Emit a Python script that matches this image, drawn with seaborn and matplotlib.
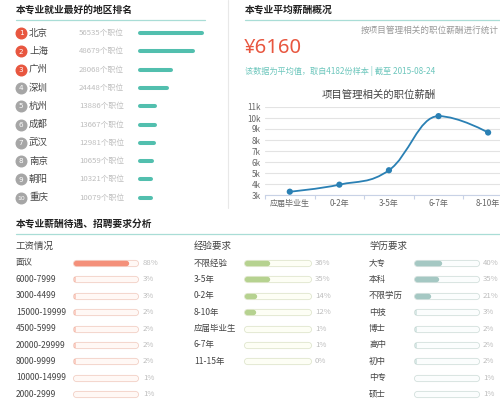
import numpy as np
import pandas as pd
import matplotlib
matplotlib.use('Agg')
import matplotlib.pyplot as plt
from matplotlib.path import Path
from matplotlib.patches import PathPatch
import seaborn as sns

# 地区排名
cities = ['北京', '上海', '广州', '深圳', '杭州', '成都', '武汉', '南京', '朝阳', '重庆']
city_jobs = [56535, 48679, 28068, 24448, 13886, 13667, 12981, 10659, 10321, 10079]

# 职位薪酬 (按经验)
exp_cats = ['应届毕业生', '0-2年', '3-5年', '6-7年', '8-10年']
exp_pay = [3300, 3940, 5250, 10170, 8680]

# 工资情况
salary_labels = ['面议', '6000-7999', '3000-4499', '15000-19999', '4500-5999',
                 '20000-29999', '8000-9999', '10000-14999', '2000-2999']
salary_pct = [88, 3, 3, 2, 2, 2, 2, 1, 1]

# 经验要求
exp_labels = ['不限经验', '3-5年', '0-2年', '8-10年', '应届毕业生', '6-7年', '11-15年']
exp_pct = [36, 35, 14, 12, 1, 1, 0]

# 学历要求
edu_labels = ['大专', '本科', '不限学历', '中技', '博士', '高中', '初中', '中专', '硕士']
edu_pct = [40, 35, 21, 3, 2, 2, 2, 1, 1]

sns.set_theme(style='white')
plt.rcParams['font.family'] = ['Noto Sans CJK SC', 'DejaVu Sans']

W, H = 500, 400
fig = plt.figure(figsize=(5, 4), dpi=100)


def rect(x0, y0, x1, y1):
    return [x0 / W, 1 - y1 / H, (x1 - x0) / W, (y1 - y0) / H]


# 背景层: 标题、分隔线、文字
bg = fig.add_axes([0, 0, 1, 1])
bg.set_xlim(0, W)
bg.set_ylim(H, 0)
bg.axis('off')

teal_line = '#a9ddd6'
bg.plot([16, 205], [20, 20], color=teal_line, lw=0.9)
bg.plot([245, 500], [20, 20], color=teal_line, lw=0.9)
bg.plot([16, 500], [234, 234], color=teal_line, lw=0.9)
bg.plot([228, 228], [0, 208], color='#e8e8e8', lw=0.8)

bg.text(16, 10, '本专业就业最好的地区排名', fontsize=7, fontweight='bold', color='#222', va='center')
bg.text(245, 10, '本专业平均薪酬概况', fontsize=7, fontweight='bold', color='#222', va='center')
bg.text(16, 224, '本专业薪酬待遇、招聘要求分析', fontsize=7, fontweight='bold', color='#222', va='center')

# 排名列表
row_y = [33 + i * 18.3 for i in range(len(cities))]
for i, (c, n) in enumerate(zip(cities, city_jobs)):
    col = '#e8563f' if i < 3 else '#a6a6a6'
    bg.scatter(21, row_y[i], s=58, color=col, zorder=3)
    bg.text(21, row_y[i] + 0.3, str(i + 1), fontsize=5.2 if i < 9 else 4.4, color='white',
            ha='center', va='center', zorder=4, family='DejaVu Sans')
    bg.text(29, row_y[i], c, fontsize=6.8, color='#444', va='center')
    bg.text(79, row_y[i], f'{n}个职位', fontsize=5.6, color='#bdbdbd', va='center')

rank_ax = fig.add_axes(rect(140, row_y[0] - 9.15, 201.5, row_y[-1] + 9.15))
rank_ax.set_facecolor('none')
rank_ax.hlines(range(len(cities)), 0, city_jobs, color='#52bfae', lw=2.9,
               capstyle='round', clip_on=False)
rank_ax.set_xlim(0, max(city_jobs))
rank_ax.set_ylim(len(cities) - 0.5, -0.5)
rank_ax.axis('off')

# 平均薪酬
bg.text(499, 30, '按项目管理相关的职位薪酬进行统计', fontsize=6.2, color='#999',
        ha='right', va='center')
bg.text(244, 48, '¥6160', fontsize=14.5, color='#e8563f', va='center',
        family=['Noto Sans', 'Noto Sans CJK SC'])
bg.text(245, 71, '该数据为平均值，取自4182份样本 | 截至 2015-08-24', fontsize=5.9,
        color='#6cc6bc', va='center')
bg.text(379, 95, '项目管理相关的职位薪酬', fontsize=7.5, color='#444', ha='center', va='center')

line_ax = fig.add_axes(rect(265, 107, 500, 195))
line_ax.set_facecolor('none')
df = pd.DataFrame({'x': range(len(exp_cats)), 'pay': exp_pay})

# highcharts 风格的平滑曲线控制点
xs = df['x'].to_numpy(dtype=float)
ys = df['pay'].to_numpy(dtype=float)
lc = [(x, y) for x, y in zip(xs, ys)]
rc = [(x, y) for x, y in zip(xs, ys)]
for i in range(1, len(xs) - 1):
    px, py = xs[i], ys[i]
    lx, ly = xs[i - 1], ys[i - 1]
    nx, ny = xs[i + 1], ys[i + 1]
    lcx, lcy = (1.5 * px + lx) / 2.5, (1.5 * py + ly) / 2.5
    rcx, rcy = (1.5 * px + nx) / 2.5, (1.5 * py + ny) / 2.5
    corr = (rcy - lcy) * (rcx - px) / (rcx - lcx) + py - rcy
    lcy += corr
    rcy += corr
    if lcy > ly and lcy > py:
        lcy = max(ly, py)
        rcy = 2 * py - lcy
    elif lcy < ly and lcy < py:
        lcy = min(ly, py)
        rcy = 2 * py - lcy
    if rcy > ny and rcy > py:
        rcy = max(ny, py)
        lcy = 2 * py - rcy
    elif rcy < ny and rcy < py:
        rcy = min(ny, py)
        lcy = 2 * py - rcy
    lc[i] = (lcx, lcy)
    rc[i] = (rcx, rcy)
verts = [(xs[0], ys[0])]
codes = [Path.MOVETO]
for i in range(1, len(xs)):
    verts += [rc[i - 1], lc[i], (xs[i], ys[i])]
    codes += [Path.CURVE4] * 3
line_ax.add_patch(PathPatch(Path(verts, codes), fill=False, color='#2a80b4', lw=1.3, zorder=3))
sns.scatterplot(data=df, x='x', y='pay', ax=line_ax, color='#2a80b4', s=20,
                edgecolor='none', zorder=4, legend=False)

line_ax.set_xlim(-0.5, 4.24)
line_ax.set_ylim(3000, 11000)
line_ax.set_yticks(range(3000, 11001, 1000))
line_ax.set_yticklabels([f'{v // 1000}k' for v in range(3000, 11001, 1000)])
line_ax.set_xticks(range(len(exp_cats)))
line_ax.set_xticklabels(exp_cats)
line_ax.set_xticks([i - 0.5 for i in range(len(exp_cats))], minor=True)
line_ax.tick_params(axis='both', which='major', length=0, labelsize=5.8, labelcolor='#666')
line_ax.tick_params(axis='y', pad=3)
line_ax.tick_params(axis='x', pad=3)
line_ax.tick_params(axis='x', which='minor', length=3, color='#c8d2e6', width=0.8, bottom=True)
line_ax.grid(axis='y', color='#e3e3e3', lw=0.8)
line_ax.set_xlabel('')
line_ax.set_ylabel('')
for s in ['top', 'right', 'left']:
    line_ax.spines[s].set_visible(False)
line_ax.spines['bottom'].set_color('#c8d2e6')
line_ax.spines['bottom'].set_linewidth(0.8)

# 招聘要求进度条
groups = [
    ('工资情况', salary_labels, salary_pct, 16, 72, 138, 143, '#f4907a', '#f2cfc4', '#fff8f5'),
    ('经验要求', exp_labels, exp_pct, 194, 243, 311, 315, '#b6d290', '#dfe6cd', '#fdfef5'),
    ('学历要求', edu_labels, edu_pct, 369, 413, 479, 483, '#a5c8c3', '#d2dfdc', '#fbfdfd'),
]
first_y = 263
step = 16.4
for title, labels, pcts, lx, b0, b1, tx, fill_c, edge_c, in_c in groups:
    bg.text(lx, 246, title, fontsize=6.8, color='#444', va='center')
    ys_rows = [first_y + j * step for j in range(len(labels))]
    for j, (lab, p) in enumerate(zip(labels, pcts)):
        bg.text(lx, ys_rows[j], lab, fontsize=6.1, color='#444', va='center')
        bg.text(tx, ys_rows[j], f'{p}%', fontsize=5.6, color='#bdbdbd', va='center')
    ax = fig.add_axes(rect(b0 + 3.5, ys_rows[0] - step / 2, b1 - 3.5, ys_rows[-1] + step / 2))
    ax.set_facecolor('none')
    rows = list(range(len(labels)))
    ax.hlines(rows, 0, 100, color=edge_c, lw=5.1, capstyle='round', clip_on=False)
    ax.hlines(rows, 0, 100, color=in_c, lw=3.9, capstyle='round', clip_on=False)
    big = [(r, p) for r, p in zip(rows, pcts) if p >= 5]
    small = [(r, p) for r, p in zip(rows, pcts) if 0 < p < 5]
    if big:
        ax.hlines([r for r, _ in big], 1.5, [p - 2 for _, p in big], color=fill_c, lw=3.9,
                  capstyle='round', clip_on=False)
    if small:
        ax.hlines([r for r, _ in small], -3, [p - 3.5 for _, p in small], color=fill_c,
                  lw=3.6, capstyle='butt', alpha=0.8, clip_on=False)
    ax.set_xlim(0, 100)
    ax.set_ylim(len(labels) - 0.5, -0.5)
    ax.axis('off')

fig.savefig('out.png', dpi=100)
